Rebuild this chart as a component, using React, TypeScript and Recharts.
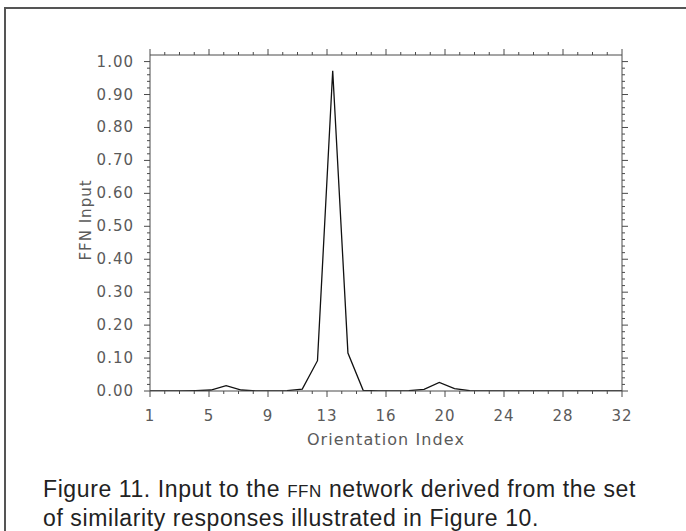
import { Line, LineChart, XAxis, YAxis } from 'recharts';

const ORIENTATION_INDEX = [
  1, 2, 3, 4, 5, 6, 7, 8, 9, 10, 11, 12, 13, 14, 15, 16,
  17, 18, 19, 20, 21, 22, 23, 24, 25, 26, 27, 28, 29, 30, 31, 32,
];
const FFN_INPUT = [
  0, 0, 0, 0.001, 0.003, 0.016, 0.003, 0, 0, 0.001, 0.006, 0.092, 0.972, 0.115, 0.002, 0,
  0, 0.001, 0.005, 0.026, 0.007, 0.001, 0, 0, 0, 0, 0, 0, 0, 0, 0, 0,
];

// the x axis runs 1..32 in 8 equal steps, labels are the rounded values
const X_TICK_LABELS = ['1', '5', '9', '13', '16', '20', '24', '28', '32'];
const Y_TICK_LABELS = [
  '0.00', '0.10', '0.20', '0.30', '0.40', '0.50', '0.60', '0.70', '0.80', '0.90', '1.00',
];

const X_DOMAIN: [number, number] = [1, 32];
const Y_DOMAIN: [number, number] = [0, 1.02];
const X_MINOR_PER_MAJOR = 4;
const Y_MINOR_PER_MAJOR = 5;

const xStep = (X_DOMAIN[1] - X_DOMAIN[0]) / ((X_TICK_LABELS.length - 1) * X_MINOR_PER_MAJOR);
const X_TICKS = Array.from(
  { length: (X_TICK_LABELS.length - 1) * X_MINOR_PER_MAJOR + 1 },
  (_, i) => X_DOMAIN[0] + i * xStep,
);
const Y_TICKS = Array.from(
  { length: (Y_TICK_LABELS.length - 1) * Y_MINOR_PER_MAJOR + 1 },
  (_, i) => Math.round(i * 2) / 100,
);

const rows = ORIENTATION_INDEX.map((x, i) => ({ x, v: FFN_INPUT[i] }));

const AXIS_COLOR = '#4a4a4a';
const LABEL_STYLE = {
  fontFamily: '"DejaVu Sans", sans-serif',
  fontSize: 15,
  fill: '#5a5a5a',
  letterSpacing: 1,
} as const;

const MAJOR_LEN = 6;
const MINOR_LEN = 3;

function BottomTick(props: any) {
  const { x, y, index } = props;
  const major = index % X_MINOR_PER_MAJOR === 0;
  return (
    <g>
      <line x1={x} x2={x} y1={y} y2={y + (major ? MAJOR_LEN : MINOR_LEN)} stroke={AXIS_COLOR} />
      {major && (
        <text x={x} y={y + 30} textAnchor="middle" {...LABEL_STYLE}>
          {X_TICK_LABELS[index / X_MINOR_PER_MAJOR]}
        </text>
      )}
    </g>
  );
}

function TopTick(props: any) {
  const { x, y, index } = props;
  const major = index % X_MINOR_PER_MAJOR === 0;
  return (
    <line x1={x} x2={x} y1={y} y2={y - (major ? MAJOR_LEN : MINOR_LEN)} stroke={AXIS_COLOR} />
  );
}

function LeftTick(props: any) {
  const { x, y, index } = props;
  const major = index % Y_MINOR_PER_MAJOR === 0;
  return (
    <g>
      <line x1={x} x2={x - (major ? MAJOR_LEN : MINOR_LEN)} y1={y} y2={y} stroke={AXIS_COLOR} />
      {major && (
        <text x={x - 16} y={y + 5} textAnchor="end" {...LABEL_STYLE}>
          {Y_TICK_LABELS[index / Y_MINOR_PER_MAJOR]}
        </text>
      )}
    </g>
  );
}

function RightTick(props: any) {
  const { x, y, index } = props;
  const major = index % Y_MINOR_PER_MAJOR === 0;
  return (
    <line x1={x} x2={x + (major ? MAJOR_LEN : MINOR_LEN)} y1={y} y2={y} stroke={AXIS_COLOR} />
  );
}

function YLabel() {
  const cx = 86;
  const cy = 220;
  return (
    <text
      x={cx}
      y={cy}
      transform={`rotate(-90 ${cx} ${cy})`}
      textAnchor="middle"
      dominantBaseline="middle"
      {...LABEL_STYLE}
    >
      FFN Input
    </text>
  );
}

export default function App() {
  return (
    <div
      style={{
        position: 'fixed',
        left: 0,
        top: 0,
        width: 686,
        height: 531,
        overflow: 'hidden',
        background: '#fff',
      }}
    >
      <div
        style={{
          position: 'absolute',
          left: 4,
          top: 7,
          width: 720,
          height: 600,
          borderLeft: '2px solid #555',
          borderTop: '2px solid #555',
        }}
      />
      <div style={{ position: 'absolute', left: 0, top: 0 }}>
        <LineChart
          width={686}
          height={460}
          data={rows}
          margin={{ top: 45, right: 54, left: 80, bottom: 13 }}
        >
          <XAxis
            xAxisId="bottom"
            dataKey="x"
            type="number"
            domain={X_DOMAIN}
            allowDataOverflow
            ticks={X_TICKS}
            interval={0}
            tickSize={0}
            tickMargin={0}
            tickLine={false}
            tick={BottomTick}
            height={56}
            stroke={AXIS_COLOR}
            label={{
              value: 'Orientation Index',
              position: 'insideBottom',
              offset: 2,
              style: { ...LABEL_STYLE, fontSize: 16, letterSpacing: 1.1 },
            }}
          />
          <XAxis
            xAxisId="top"
            orientation="top"
            dataKey="x"
            type="number"
            domain={X_DOMAIN}
            allowDataOverflow
            ticks={X_TICKS}
            interval={0}
            tickSize={0}
            tickMargin={0}
            tickLine={false}
            tick={TopTick}
            height={10}
            stroke={AXIS_COLOR}
          />
          <YAxis
            yAxisId="left"
            type="number"
            domain={Y_DOMAIN}
            allowDataOverflow
            ticks={Y_TICKS}
            interval={0}
            tickSize={0}
            tickMargin={0}
            tickLine={false}
            tick={LeftTick}
            width={70}
            stroke={AXIS_COLOR}
            label={<YLabel />}
          />
          <YAxis
            yAxisId="right"
            orientation="right"
            type="number"
            domain={Y_DOMAIN}
            allowDataOverflow
            ticks={Y_TICKS}
            interval={0}
            tickSize={0}
            tickMargin={0}
            tickLine={false}
            tick={RightTick}
            width={10}
            stroke={AXIS_COLOR}
          />
          <Line
            xAxisId="top"
            yAxisId="right"
            dataKey="v"
            type="linear"
            stroke="none"
            dot={false}
            activeDot={false}
            isAnimationActive={false}
          />
          <Line
            xAxisId="bottom"
            yAxisId="left"
            dataKey="v"
            type="linear"
            stroke="#111"
            strokeWidth={1.3}
            dot={false}
            activeDot={false}
            isAnimationActive={false}
          />
        </LineChart>
      </div>
      <div
        style={{
          position: 'absolute',
          left: 43,
          top: 476,
          fontFamily: '"Liberation Sans", Arial, sans-serif',
          fontSize: 23,
          letterSpacing: 0.6,
          lineHeight: '27px',
          color: '#222',
          whiteSpace: 'nowrap',
        }}
      >
        <div>
          Figure 11. Input to the <span style={{ fontSize: 17 }}>FFN</span> network derived from
          the set
        </div>
        <div>of similarity responses illustrated in Figure 10.</div>
      </div>
    </div>
  );
}
